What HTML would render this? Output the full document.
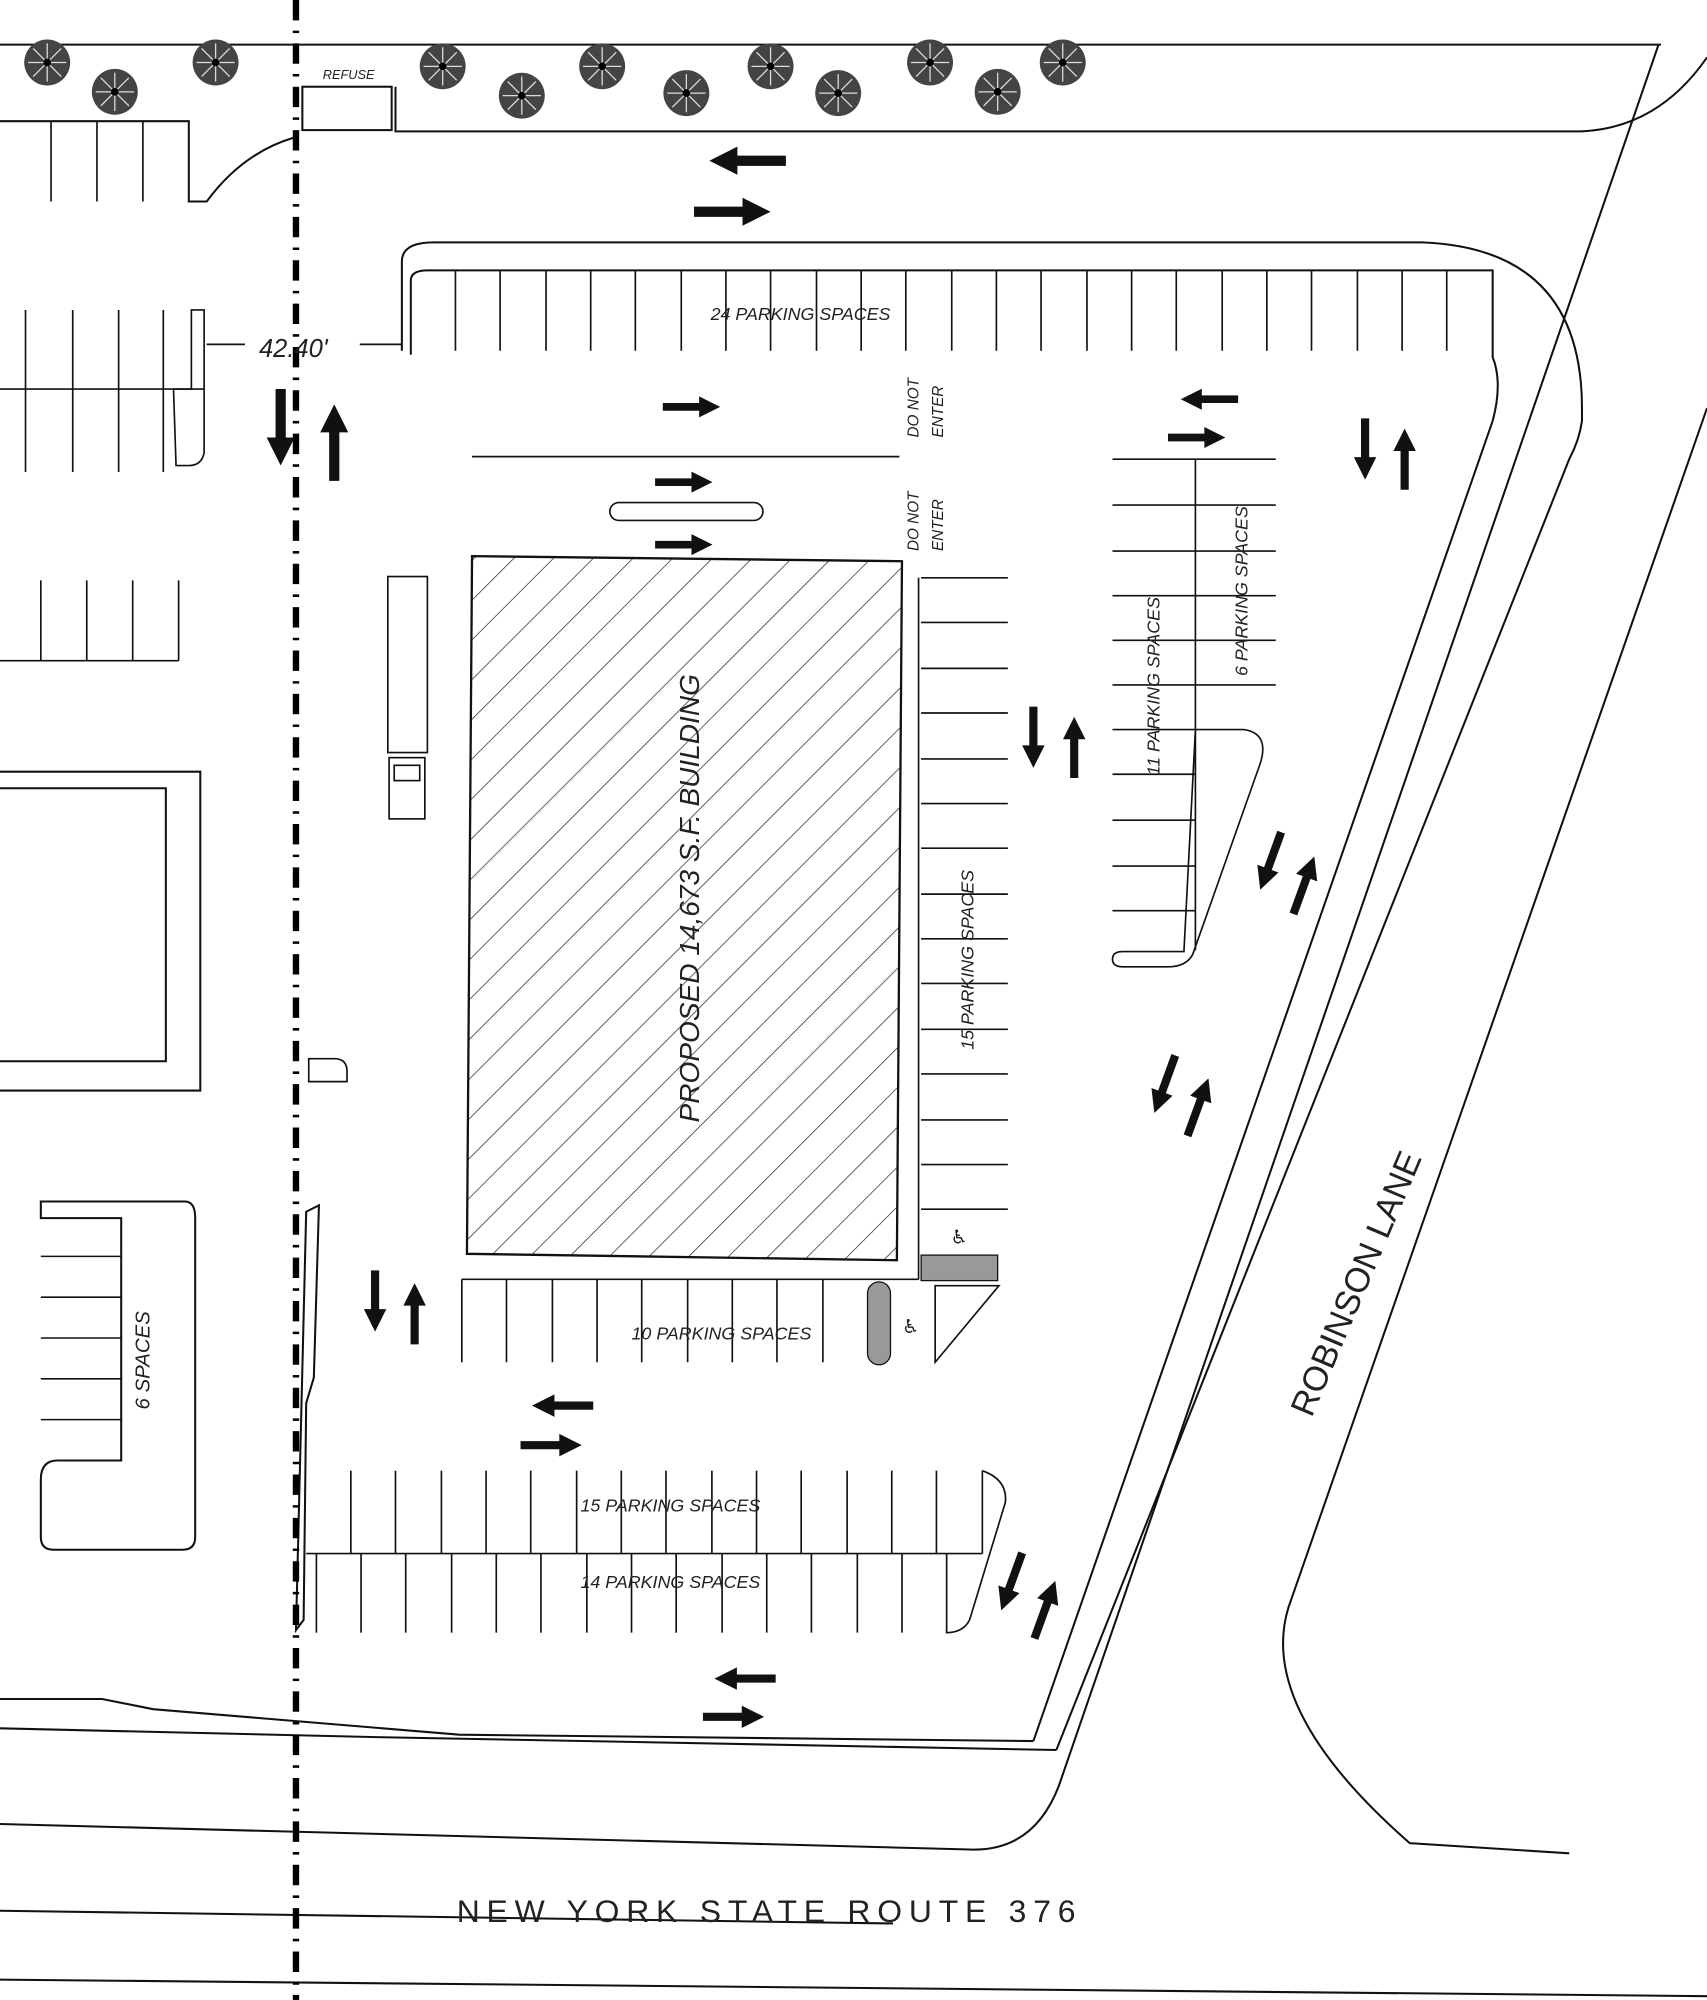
<!DOCTYPE html>
<html><head><meta charset="utf-8"><style>html,body{margin:0;padding:0;background:#fff}svg{display:block}svg text{font-weight:normal;stroke:none}</style></head><body>
<svg width="1707" height="2000" viewBox="0 0 1338 1568" preserveAspectRatio="none" xmlns="http://www.w3.org/2000/svg" font-family="Liberation Sans, sans-serif">
<defs>
<pattern id="h" width="22" height="22" patternUnits="userSpaceOnUse" patternTransform="rotate(45)"><line x1="0" y1="0" x2="0" y2="22" stroke="#333" stroke-width="1.2"/></pattern>
<path id="ar" d="M-30,-4 L8,-4 L8,-11 L30,0 L8,11 L8,4 L-30,4 Z" fill="#111"/>
<g id="tr"><circle r="18" fill="#444"/><g stroke="#ddd" stroke-width="1"><line x1="-15" y1="0" x2="15" y2="0"/><line x1="0" y1="-15" x2="0" y2="15"/><line x1="-11" y1="-11" x2="11" y2="11"/><line x1="-11" y1="11" x2="11" y2="-11"/></g><circle r="3" fill="#000"/></g>
</defs>
<g fill="none" stroke="#111" stroke-width="1.6">
<line x1="0" y1="35" x2="1302" y2="35"/>
<path d="M310,68 L310,103 L1240,103 Q1300,100 1338,45"/>
<path d="M0,95 L148,95 L148,158 L162,158 Q190,120 230,108"/>
<g stroke-width="1.3"><line x1="40" y1="95" x2="40" y2="158"/><line x1="76" y1="95" x2="76" y2="158"/><line x1="112" y1="95" x2="112" y2="158"/></g>
<rect x="237" y="68" width="70" height="34"/>
<g stroke-width="1.3">
<line x1="0" y1="305" x2="160" y2="305"/>
<line x1="20" y1="243" x2="20" y2="370"/><line x1="57" y1="243" x2="57" y2="370"/><line x1="93" y1="243" x2="93" y2="370"/><line x1="128" y1="243" x2="128" y2="370"/>
<path d="M150,243 L160,243 L160,355 Q158,365 148,365 L138,365 L136,305 L150,305 Z"/>
<line x1="0" y1="518" x2="140" y2="518"/>
<line x1="32" y1="455" x2="32" y2="518"/><line x1="68" y1="455" x2="68" y2="518"/><line x1="104" y1="455" x2="104" y2="518"/><line x1="140" y1="455" x2="140" y2="518"/>
</g>
<path d="M0,605 L157,605 L157,855 L0,855"/><path d="M0,618 L130,618 L130,832 L0,832"/>
<path d="M32,942 L145,942 Q153,942 153,955 L153,1205 Q153,1215 143,1215 L42,1215 Q32,1215 32,1205 L32,1160 Q32,1145 45,1145 L95,1145 L95,955 L32,955 Z"/>
<g stroke-width="1.2"><line x1="32" y1="985" x2="95" y2="985"/><line x1="32" y1="1017" x2="95" y2="1017"/><line x1="32" y1="1049" x2="95" y2="1049"/><line x1="32" y1="1081" x2="95" y2="1081"/><line x1="32" y1="1113" x2="95" y2="1113"/></g>
<line x1="162" y1="270" x2="192" y2="270" stroke-width="1.3"/><line x1="282" y1="270" x2="315" y2="270" stroke-width="1.3"/>
<path d="M315,275 L315,205 Q315,190 340,190 L1115,190 Q1240,195 1240,320 L1240,330 Q1238,345 1230,360"/>
<path d="M322,278 L322,220 Q322,212 335,212 L1170,212 L1170,280 Q1178,300 1170,330"/>
<g stroke-width="1.3">
<line x1="357" y1="212" x2="357" y2="275"/><line x1="392" y1="212" x2="392" y2="275"/><line x1="428" y1="212" x2="428" y2="275"/><line x1="463" y1="212" x2="463" y2="275"/><line x1="498" y1="212" x2="498" y2="275"/><line x1="534" y1="212" x2="534" y2="275"/><line x1="569" y1="212" x2="569" y2="275"/><line x1="604" y1="212" x2="604" y2="275"/><line x1="640" y1="212" x2="640" y2="275"/><line x1="675" y1="212" x2="675" y2="275"/><line x1="710" y1="212" x2="710" y2="275"/><line x1="746" y1="212" x2="746" y2="275"/><line x1="781" y1="212" x2="781" y2="275"/><line x1="816" y1="212" x2="816" y2="275"/><line x1="852" y1="212" x2="852" y2="275"/><line x1="887" y1="212" x2="887" y2="275"/><line x1="922" y1="212" x2="922" y2="275"/><line x1="958" y1="212" x2="958" y2="275"/><line x1="993" y1="212" x2="993" y2="275"/><line x1="1028" y1="212" x2="1028" y2="275"/><line x1="1064" y1="212" x2="1064" y2="275"/><line x1="1099" y1="212" x2="1099" y2="275"/><line x1="1134" y1="212" x2="1134" y2="275"/>
<line x1="370" y1="358" x2="705" y2="358"/>
<rect x="478" y="394" width="120" height="14" rx="7"/>
<rect x="304" y="452" width="31" height="138"/><rect x="305" y="594" width="28" height="48"/><rect x="309" y="600" width="20" height="12"/>
<path d="M242,830 L262,830 Q272,830 272,840 L272,848 L242,848 Z"/>
<line x1="720" y1="453" x2="720" y2="1003"/>
<line x1="722" y1="453" x2="790" y2="453"/><line x1="722" y1="488" x2="790" y2="488"/><line x1="722" y1="524" x2="790" y2="524"/><line x1="722" y1="559" x2="790" y2="559"/><line x1="722" y1="595" x2="790" y2="595"/><line x1="722" y1="630" x2="790" y2="630"/><line x1="722" y1="665" x2="790" y2="665"/><line x1="722" y1="701" x2="790" y2="701"/><line x1="722" y1="736" x2="790" y2="736"/><line x1="722" y1="771" x2="790" y2="771"/><line x1="722" y1="807" x2="790" y2="807"/><line x1="722" y1="842" x2="790" y2="842"/><line x1="722" y1="878" x2="790" y2="878"/><line x1="722" y1="913" x2="790" y2="913"/><line x1="722" y1="948" x2="790" y2="948"/>
<line x1="937" y1="360" x2="937" y2="745"/>
<line x1="872" y1="360" x2="1000" y2="360"/><line x1="872" y1="396" x2="1000" y2="396"/><line x1="872" y1="432" x2="1000" y2="432"/><line x1="872" y1="467" x2="1000" y2="467"/><line x1="872" y1="502" x2="1000" y2="502"/><line x1="872" y1="537" x2="1000" y2="537"/>
<line x1="872" y1="572" x2="937" y2="572"/><line x1="872" y1="607" x2="937" y2="607"/><line x1="872" y1="643" x2="937" y2="643"/><line x1="872" y1="679" x2="937" y2="679"/><line x1="872" y1="714" x2="937" y2="714"/>
<path d="M937,572 L975,572 Q995,575 988,598 L935,748 Q930,758 915,758 L880,758 Q872,758 872,752 Q872,746 880,746 L928,746 Z"/>
<line x1="362" y1="1003" x2="720" y2="1003"/>
<line x1="362" y1="1003" x2="362" y2="1068"/><line x1="397" y1="1003" x2="397" y2="1068"/><line x1="433" y1="1003" x2="433" y2="1068"/><line x1="468" y1="1003" x2="468" y2="1068"/><line x1="503" y1="1003" x2="503" y2="1068"/><line x1="539" y1="1003" x2="539" y2="1068"/><line x1="574" y1="1003" x2="574" y2="1068"/><line x1="609" y1="1003" x2="609" y2="1068"/><line x1="645" y1="1003" x2="645" y2="1068"/>
<path d="M733,1068 L783,1008 L733,1008 Z"/>
<line x1="240" y1="1218" x2="770" y2="1218"/>
<path d="M770,1153 Q790,1160 788,1178 L760,1270 Q755,1280 742,1280 L742,1218"/>
<line x1="275" y1="1153" x2="275" y2="1218"/><line x1="310" y1="1153" x2="310" y2="1218"/><line x1="346" y1="1153" x2="346" y2="1218"/><line x1="381" y1="1153" x2="381" y2="1218"/><line x1="416" y1="1153" x2="416" y2="1218"/><line x1="452" y1="1153" x2="452" y2="1218"/><line x1="487" y1="1153" x2="487" y2="1218"/><line x1="522" y1="1153" x2="522" y2="1218"/><line x1="558" y1="1153" x2="558" y2="1218"/><line x1="593" y1="1153" x2="593" y2="1218"/><line x1="628" y1="1153" x2="628" y2="1218"/><line x1="664" y1="1153" x2="664" y2="1218"/><line x1="699" y1="1153" x2="699" y2="1218"/><line x1="734" y1="1153" x2="734" y2="1218"/><line x1="770" y1="1153" x2="770" y2="1218"/>
<line x1="248" y1="1218" x2="248" y2="1280"/><line x1="283" y1="1218" x2="283" y2="1280"/><line x1="318" y1="1218" x2="318" y2="1280"/><line x1="354" y1="1218" x2="354" y2="1280"/><line x1="389" y1="1218" x2="389" y2="1280"/><line x1="424" y1="1218" x2="424" y2="1280"/><line x1="460" y1="1218" x2="460" y2="1280"/><line x1="495" y1="1218" x2="495" y2="1280"/><line x1="530" y1="1218" x2="530" y2="1280"/><line x1="566" y1="1218" x2="566" y2="1280"/><line x1="601" y1="1218" x2="601" y2="1280"/><line x1="636" y1="1218" x2="636" y2="1280"/><line x1="672" y1="1218" x2="672" y2="1280"/><line x1="707" y1="1218" x2="707" y2="1280"/>
</g>
<path d="M240,950 L250,945 L246,1080 L240,1100 L238,1270 L232,1278 Z"/>
<path d="M1170,330 L810,1365"/>
<path d="M1230,360 L828,1372"/>
<path d="M1338,320 L1010,1260 Q985,1340 1105,1445 L1230,1453"/>
<path d="M0,1332 L80,1332 L120,1340 L360,1360 L810,1365"/>
<path d="M0,1355 L300,1362 L828,1372"/>
<path d="M0,1430 L760,1450 Q810,1452 830,1400 L1300,35"/>
<line x1="0" y1="1498" x2="700" y2="1508"/>
<line x1="0" y1="1552" x2="1338" y2="1565"/>
</g>
<polygon points="370,436 707,440 703,988 366,983" fill="url(#h)" stroke="#111" stroke-width="1.8"/>
<rect x="722" y="984" width="60" height="20" fill="#999" stroke="#111"/>
<rect x="680" y="1005" width="18" height="65" rx="9" fill="#999" stroke="#111"/>
<line x1="232" y1="0" x2="232" y2="1568" stroke="#000" stroke-width="5" stroke-dasharray="16,8,2,8"/>
<use href="#tr" x="37" y="49"/><use href="#tr" x="90" y="72"/><use href="#tr" x="169" y="49"/><use href="#tr" x="347" y="52"/><use href="#tr" x="409" y="75"/><use href="#tr" x="472" y="52"/><use href="#tr" x="538" y="73"/><use href="#tr" x="604" y="52"/><use href="#tr" x="657" y="73"/><use href="#tr" x="729" y="49"/><use href="#tr" x="782" y="72"/><use href="#tr" x="833" y="49"/>
<use href="#ar" transform="translate(586,126) rotate(180)"/><use href="#ar" transform="translate(574,166)"/>
<use href="#ar" transform="translate(542,319) scale(.75)"/><use href="#ar" transform="translate(536,378) scale(.75)"/><use href="#ar" transform="translate(536,427) scale(.75)"/>
<use href="#ar" transform="translate(948,313) rotate(180) scale(.75)"/><use href="#ar" transform="translate(938,343) scale(.75)"/>
<use href="#ar" transform="translate(220,335) rotate(90)"/><use href="#ar" transform="translate(262,347) rotate(-90)"/>
<use href="#ar" transform="translate(1070,352) rotate(90) scale(.8)"/><use href="#ar" transform="translate(1101,360) rotate(-90) scale(.8)"/>
<use href="#ar" transform="translate(810,578) rotate(90) scale(.8)"/><use href="#ar" transform="translate(842,586) rotate(-90) scale(.8)"/>
<use href="#ar" transform="translate(996,675) rotate(110) scale(.8)"/><use href="#ar" transform="translate(1022,694) rotate(-70) scale(.8)"/>
<use href="#ar" transform="translate(913,850) rotate(110) scale(.8)"/><use href="#ar" transform="translate(939,868) rotate(-70) scale(.8)"/>
<use href="#ar" transform="translate(294,1020) rotate(90) scale(.8)"/><use href="#ar" transform="translate(325,1030) rotate(-90) scale(.8)"/>
<use href="#ar" transform="translate(441,1102) rotate(180) scale(.8)"/><use href="#ar" transform="translate(432,1133) scale(.8)"/>
<use href="#ar" transform="translate(793,1240) rotate(110) scale(.8)"/><use href="#ar" transform="translate(819,1262) rotate(-70) scale(.8)"/>
<use href="#ar" transform="translate(584,1316) rotate(180) scale(.8)"/><use href="#ar" transform="translate(575,1346) scale(.8)"/>
<g fill="#222" stroke="none" font-style="italic">
<text x="253" y="62" font-size="10">REFUSE</text>
<text x="203" y="280" font-size="20">42.40'</text>
<text x="557" y="251" font-size="14">24 PARKING SPACES</text>
<text transform="translate(720,343) rotate(-90)" font-size="12">DO NOT</text>
<text transform="translate(739,343) rotate(-90)" font-size="12">ENTER</text>
<text transform="translate(720,432) rotate(-90)" font-size="12">DO NOT</text>
<text transform="translate(739,432) rotate(-90)" font-size="12">ENTER</text>
<text transform="translate(548,880) rotate(-90)" font-size="22">PROPOSED 14,673 S.F. BUILDING</text>
<text transform="translate(763,823) rotate(-90)" font-size="14">15 PARKING SPACES</text>
<text transform="translate(978,530) rotate(-90)" font-size="14">6 PARKING SPACES</text>
<text transform="translate(909,608) rotate(-90)" font-size="14">11 PARKING SPACES</text>
<text transform="translate(117,1105) rotate(-90)" font-size="16">6 SPACES</text>
<text x="495" y="1050" font-size="14">10 PARKING SPACES</text>
<text x="455" y="1185" font-size="14">15 PARKING SPACES</text>
<text x="455" y="1245" font-size="14">14 PARKING SPACES</text>
</g>
<g fill="#222" stroke="none">
<text x="745" y="975" font-size="15" font-family="DejaVu Sans">♿</text>
<text x="707" y="1045" font-size="15" font-family="DejaVu Sans">♿</text>
<text transform="translate(1028,1112) rotate(-67)" font-size="27">ROBINSON LANE</text>
<text x="358" y="1507" font-size="25" textLength="485">NEW YORK STATE ROUTE 376</text>
</g>
</svg>
</body></html>
